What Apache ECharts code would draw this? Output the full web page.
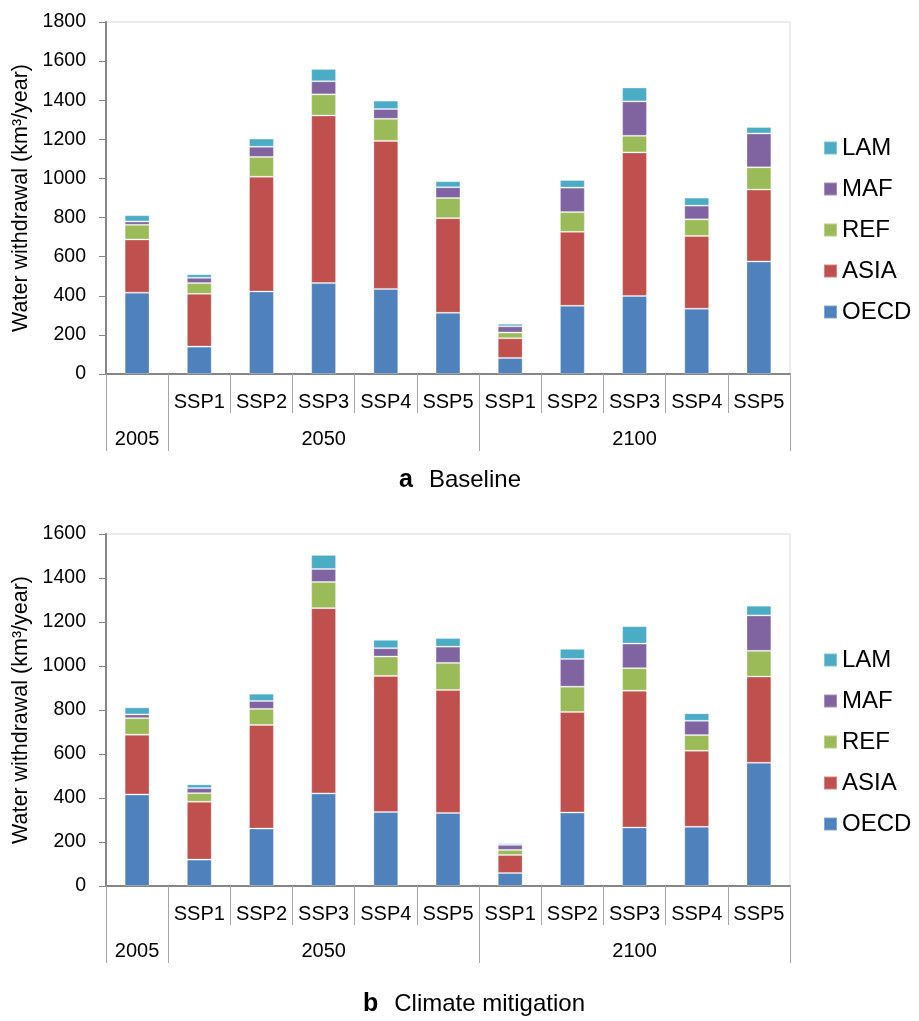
<!DOCTYPE html>
<html><head><meta charset="utf-8">
<script src="https://cdn.jsdelivr.net/npm/echarts@6/dist/echarts.min.js"></script>
<style>html,body{margin:0;padding:0;background:#fff}#c{width:919px;height:1021px}</style>
</head><body><div id="c"></div>
<script>
// ---- data ----
const scenarios = ['', 'SSP1', 'SSP2', 'SSP3', 'SSP4', 'SSP5', 'SSP1', 'SSP2', 'SSP3', 'SSP4', 'SSP5'];
const years = ['2005', '', '', '2050', '', '', '', '', '2100', '', ''];
const yearGroupStarts = [0, 1, 6];
const regions = ['OECD', 'ASIA', 'REF', 'MAF', 'LAM'];
const legendOrder = ['LAM', 'MAF', 'REF', 'ASIA', 'OECD'];

// a Baseline
const baseOECD = [416, 140, 422, 465, 435, 313, 82, 349, 399, 334, 575];
const baseASIA = [272, 270, 587, 857, 757, 484, 101, 378, 734, 372, 368];
const baseREF  = [75, 55, 101, 108, 113, 103, 29, 101, 85, 85, 114];
const baseMAF  = [17, 27, 52, 67, 50, 55, 32, 125, 176, 70, 173];
const baseLAM  = [32, 18, 42, 63, 43, 31, 13, 39, 71, 41, 33];

// b Climate mitigation
const mitOECD = [416, 120, 261, 421, 336, 332, 59, 334, 266, 269, 560];
const mitASIA = [272, 263, 471, 842, 619, 559, 82, 457, 622, 346, 392];
const mitREF  = [75, 39, 73, 119, 88, 123, 23, 115, 102, 71, 117];
const mitMAF  = [17, 23, 36, 59, 38, 74, 23, 126, 112, 65, 161];
const mitLAM  = [32, 17, 33, 64, 38, 39, 7, 46, 79, 34, 44];

const yMaxTop = 1800, yMaxBottom = 1600, yStep = 200;
const yTitle = 'Water withdrawal (km\u00B3/year)';
const captionA = ['a', 'Baseline'];
const captionB = ['b', 'Climate mitigation'];

// ---- styles ----
const FONT = '"Liberation Sans", Arial, sans-serif';
const colors = {OECD: '#4F81BD', ASIA: '#C0504D', REF: '#9BBB59', MAF: '#8064A2', LAM: '#4BACC6'};
const baseData = {OECD: baseOECD, ASIA: baseASIA, REF: baseREF, MAF: baseMAF, LAM: baseLAM};
const mitData = {OECD: mitOECD, ASIA: mitASIA, REF: mitREF, MAF: mitMAF, LAM: mitLAM};

const chart = echarts.init(document.getElementById('c'), null, {renderer: 'canvas'});

const gridTops = [22, 534];
const grids = gridTops.map(t => ({left: 106, top: t, width: 684, height: 352, show: true,
  borderColor: '#d9d9d9', borderWidth: 1, backgroundColor: 'transparent'}));

const xAxes = [];
[0, 1].forEach(g => {
  xAxes.push({
    gridIndex: g, type: 'category', position: 'bottom', data: scenarios,
    axisLine: {show: true, lineStyle: {color: '#868686', width: 2}},
    axisTick: {show: true, interval: 0, length: 39, lineStyle: {color: '#a6a6a6', width: 1}},
    axisLabel: {interval: 0, margin: 18, fontSize: 20, color: '#000', fontFamily: FONT},
    splitLine: {show: false}
  });
  xAxes.push({
    gridIndex: g, type: 'category', position: 'bottom', data: years,
    axisLine: {show: false},
    axisTick: {show: true, length: 77, lineStyle: {color: '#a6a6a6', width: 1},
      interval: (i) => yearGroupStarts.indexOf(i) >= 0},
    axisLabel: {interval: 0, margin: 55, fontSize: 20, color: '#000', fontFamily: FONT},
    splitLine: {show: false}
  });
});

const yAxes = [yMaxTop, yMaxBottom].map((mx, g) => ({
  gridIndex: g, type: 'value', min: 0, max: mx, interval: yStep,
  axisLine: {show: true, lineStyle: {color: '#868686', width: 2}},
  axisTick: {show: true, length: 7, lineStyle: {color: '#868686', width: 1}},
  splitLine: {show: false},
  axisLabel: {fontSize: 19.5, margin: 20, color: '#000', fontFamily: FONT, formatter: (v) => String(v)},
  name: yTitle, nameLocation: 'middle', nameRotate: 90, nameGap: 72,
  nameTextStyle: {fontSize: 21.5, color: '#000', fontFamily: FONT}
}));

const series = [];
[[baseData, 0], [mitData, 1]].forEach(([d, g]) => {
  regions.forEach(r => {
    series.push({
      type: 'bar', name: r, xAxisIndex: g * 2, yAxisIndex: g, stack: 'st' + g,
      barWidth: '40%', data: d[r],
      itemStyle: {color: colors[r], borderColor: 'rgba(255,255,255,0.3)', borderWidth: 1}
    });
  });
});

const legends = [136, 648].map(t => ({
  orient: 'vertical', left: 823, top: t, padding: 0, itemWidth: 13, itemHeight: 13, itemGap: 17,
  icon: 'rect', data: legendOrder, selectedMode: false,
  textStyle: {fontSize: 24, color: '#000', fontFamily: FONT}
}));

function caption(parts, x, y) {
  return {type: 'text', x: x, y: y, z: 10,
    style: {text: '{b|' + parts[0] + '}{n|' + parts[1] + '}', align: 'center', verticalAlign: 'middle',
      fill: '#000',
      rich: {b: {fontSize: 25, fontWeight: 'bold', fontFamily: FONT, fill: '#000', padding: [0, 16, 0, 0]},
             n: {fontSize: 24, fontFamily: FONT, fill: '#000'}}}};
}

chart.setOption({
  animation: false,
  backgroundColor: '#fff',
  grid: grids, xAxis: xAxes, yAxis: yAxes, series: series, legend: legends,
  graphic: [caption(captionA, 460, 480), caption(captionB, 474, 1004)]
});
</script></body></html>
